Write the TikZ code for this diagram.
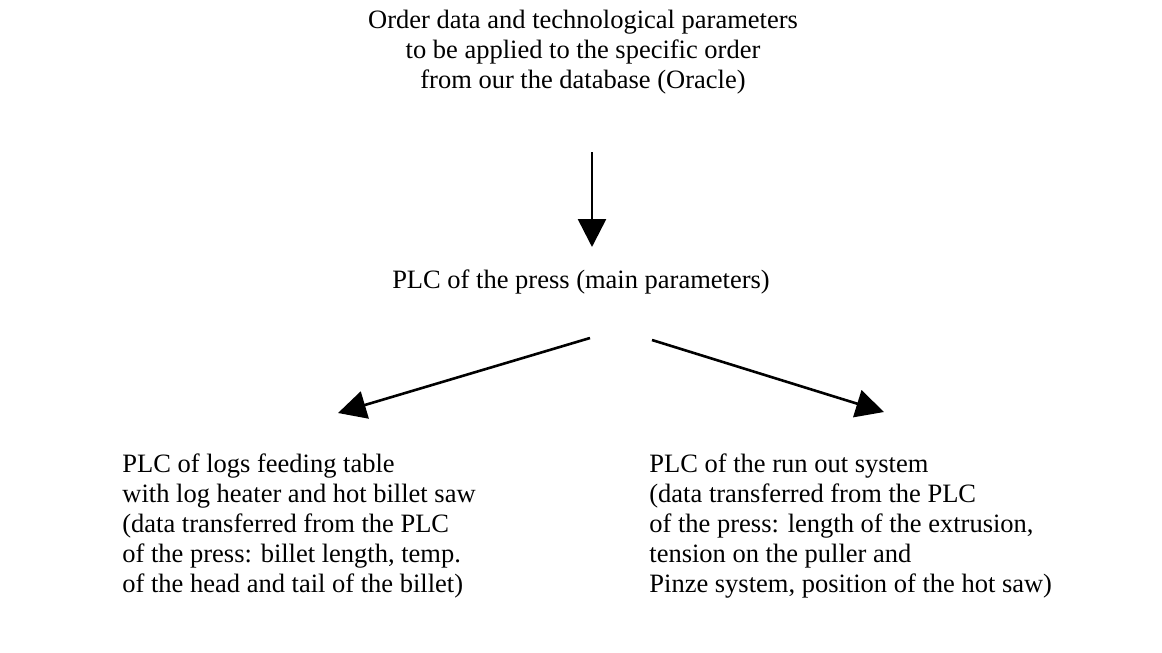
\documentclass[tikz,border=0pt]{standalone}
\usepackage{fontspec}
\setmainfont{Liberation Serif}
\usetikzlibrary{arrows.meta}
\begin{document}
\begin{tikzpicture}[x=0.5pt,y=-0.5pt,
  txt/.style={inner sep=0pt, font=\fontsize{13.25pt}{15pt}\selectfont},
  arr/.style={line width=1.3pt, -{Triangle[length=14pt,width=14pt]}}]
\useasboundingbox (0,0) rectangle (1162,653);
\node[txt, align=center] (top) at (583,52) {Order data and technological parameters\\to be applied to the specific order\\from our the database (Oracle)};
\node[txt, align=center] (mid) at (581,282) {PLC of the press (main parameters)};
\node[txt, align=left, anchor=west] (left) at (122,526) {PLC of logs feeding table\\with log heater and hot billet saw\\(data transferred from the PLC\\of the press: billet length, temp.\\of the head and tail of the billet)};
\node[txt, align=left, anchor=west] (right) at (649,526) {PLC of the run out system\\(data transferred from the PLC\\of the press: length of the extrusion,\\tension on the puller and\\Pinze system, position of the hot saw)};
\coordinate (a1s) at (592,152);
\coordinate (a1e) at (592,247);
\coordinate (a2s) at (590,338);
\coordinate (a2e) at (338,413);
\coordinate (a3s) at (652,340);
\coordinate (a3e) at (884,412);
\draw[arr] (a1s) -- (a1e);
\draw[arr] (a2s) -- (a2e);
\draw[arr] (a3s) -- (a3e);
\end{tikzpicture}
\end{document}
